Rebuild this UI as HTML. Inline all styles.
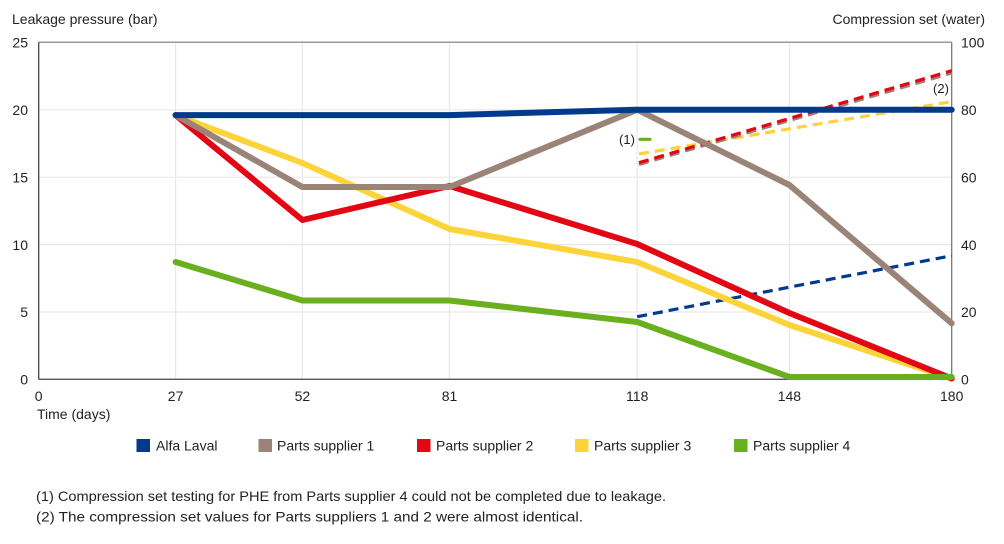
<!DOCTYPE html>
<html><head><meta charset="utf-8">
<style>
html,body{margin:0;padding:0;background:#fff;}
svg{display:block;}
text{font-family:"Liberation Sans",Arial,sans-serif;fill:#222;}
</style></head>
<body>
<svg width="1004" height="544" viewBox="0 0 1004 544" xmlns="http://www.w3.org/2000/svg">
<rect width="1004" height="544" fill="#fff"/>
<!-- grid -->
<g stroke="#ece7e7" stroke-width="1.2">
<line x1="38.7" y1="312" x2="951.7" y2="312"/>
<line x1="38.7" y1="244.6" x2="951.7" y2="244.6"/>
<line x1="38.7" y1="177.2" x2="951.7" y2="177.2"/>
<line x1="38.7" y1="109.8" x2="951.7" y2="109.8"/>
<line x1="175.6" y1="42.3" x2="175.6" y2="379.3"/>
<line x1="302.4" y1="42.3" x2="302.4" y2="379.3"/>
<line x1="449.5" y1="42.3" x2="449.5" y2="379.3"/>
<line x1="637.2" y1="42.3" x2="637.2" y2="379.3"/>
<line x1="789.4" y1="42.3" x2="789.4" y2="379.3"/>
</g>
<!-- frame -->
<line x1="38.7" y1="42.3" x2="951.7" y2="42.3" stroke="#9a9a9a" stroke-width="1.5"/>
<line x1="951.7" y1="42.3" x2="951.7" y2="379.3" stroke="#777" stroke-width="1.3"/>
<line x1="38.7" y1="42.3" x2="38.7" y2="379.3" stroke="#444" stroke-width="1.3"/>
<line x1="38.7" y1="379.3" x2="951.7" y2="379.3" stroke="#555" stroke-width="1.3"/>

<!-- dashed compression set lines -->
<g fill="none" stroke-width="3.2" stroke-dasharray="10,6">
<line x1="637.2" y1="316.7" x2="951.7" y2="255.7" stroke="#003a8c"/>
<line x1="639" y1="154" x2="951.7" y2="101.7" stroke="#fdd33a"/>
<line x1="639" y1="164.5" x2="951.7" y2="73" stroke="#9a8478"/>
<line x1="639" y1="162.7" x2="951.7" y2="70.7" stroke="#e30613"/>
</g>
<line x1="640" y1="139.3" x2="650" y2="139.3" stroke="#6aaf1e" stroke-width="3.2" stroke-linecap="round"/>

<!-- solid leakage lines -->
<g fill="none" stroke-width="6" stroke-linejoin="round" stroke-linecap="round">
<polyline stroke="#fdd33a" points="175.6,115.1 302.4,163 449.5,229 637.2,262 789.4,325 951.7,378.5"/>
<polyline stroke="#e30613" points="175.6,115.1 302.4,220 449.5,186 637.2,244 789.4,313 951.7,378.5"/>
<polyline stroke="#9a8478" points="175.6,115.1 302.4,187 449.5,187 637.2,109.7 789.4,185 951.7,323.3"/>
<polyline stroke="#6aaf1e" points="175.6,262 302.4,300.5 449.5,300.5 637.2,322 789.4,377 951.7,377"/>
<polyline stroke="#003a8c" points="175.6,115.1 302.4,115.1 449.5,115.1 637.2,109.7 789.4,109.7 951.7,109.7"/>
</g>

<!-- annotations -->
<text x="627" y="144" font-size="13" text-anchor="middle">(1)</text>
<text x="941" y="93" font-size="13" text-anchor="middle">(2)</text>

<!-- axis titles -->
<text x="12" y="24" font-size="14">Leakage pressure (bar)</text>
<text x="985" y="24" font-size="14" text-anchor="end">Compression set (water)</text>

<!-- left tick labels -->
<g font-size="14" text-anchor="end">
<text x="28" y="47.5">25</text>
<text x="28" y="115">20</text>
<text x="28" y="182.4">15</text>
<text x="28" y="249.8">10</text>
<text x="28" y="317.2">5</text>
<text x="28" y="384.5">0</text>
</g>
<!-- right tick labels -->
<g font-size="14">
<text x="961" y="47.5">100</text>
<text x="961" y="115">80</text>
<text x="961" y="182.4">60</text>
<text x="961" y="249.8">40</text>
<text x="961" y="317.2">20</text>
<text x="961" y="384.5">0</text>
</g>
<!-- x tick labels -->
<g font-size="14" text-anchor="middle">
<text x="38.7" y="401">0</text>
<text x="175.6" y="401">27</text>
<text x="302.4" y="401">52</text>
<text x="449.5" y="401">81</text>
<text x="637.2" y="401">118</text>
<text x="789.4" y="401">148</text>
<text x="951.7" y="401">180</text>
</g>
<text x="37" y="419" font-size="14">Time (days)</text>

<!-- legend -->
<g font-size="14">
<rect x="136.5" y="439" width="13.5" height="13" fill="#003a8c"/>
<text x="156" y="450.5">Alfa Laval</text>
<rect x="258.5" y="439" width="13.5" height="13" fill="#9a8478"/>
<text x="277" y="450.5">Parts supplier 1</text>
<rect x="417" y="439" width="13.5" height="13" fill="#e30613"/>
<text x="436" y="450.5">Parts supplier 2</text>
<rect x="575" y="439" width="13.5" height="13" fill="#fdd33a"/>
<text x="594" y="450.5">Parts supplier 3</text>
<rect x="734" y="439" width="13.5" height="13" fill="#6aaf1e"/>
<text x="753" y="450.5">Parts supplier 4</text>
</g>

<!-- footnotes -->
<text x="36" y="501" font-size="14" textLength="630" lengthAdjust="spacingAndGlyphs">(1) Compression set testing for PHE from Parts supplier 4 could not be completed due to leakage.</text>
<text x="36" y="521.5" font-size="14" textLength="547" lengthAdjust="spacingAndGlyphs">(2) The compression set values for Parts suppliers 1 and 2 were almost identical.</text>
</svg>
</body></html>
